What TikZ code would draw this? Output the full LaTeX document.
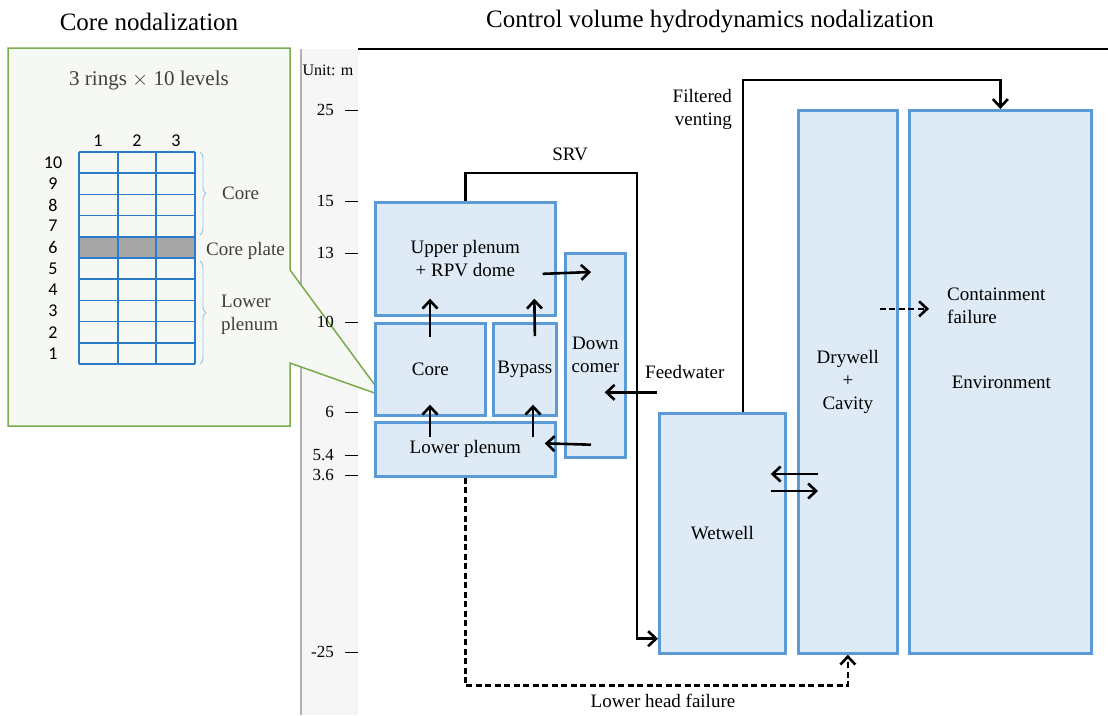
\documentclass[tikz,border=0pt]{standalone}
\usepackage{fontspec}
\setmainfont{Liberation Serif}
\newfontfamily\calib{Carlito}
\usetikzlibrary{arrows.meta,calc,decorations.pathreplacing}
\definecolor{bxfill}{HTML}{DEEBF7}
\definecolor{bxline}{HTML}{5B9BD5}
\definecolor{gridc}{HTML}{2B7BCB}
\definecolor{cgreen}{HTML}{77AB4C}
\definecolor{cfill}{HTML}{F6F8F3}
\definecolor{bracec}{HTML}{9DC3E6}
\definecolor{stripc}{HTML}{F6F6F6}
\definecolor{txtgray}{HTML}{404040}
\begin{document}
\begin{tikzpicture}[x=1pt,y=-1pt,
  box/.style={draw=bxline,fill=bxfill,line width=2.7pt,inner sep=0pt,anchor=north west,align=center,font=\fontsize{19}{23}\selectfont},
  flow/.style={draw=black,line width=2.6pt,-{Straight Barb[length=8pt,width=15pt,line width=2.6pt]}},
  dflow/.style={flow,dash pattern=on 6pt off 3.5pt},
  lbl/.style={inner sep=0pt,font=\fontsize{19}{23}\selectfont,align=center},
  tick/.style={inner sep=0pt,anchor=east,font=\fontsize{17}{20}\selectfont},
  brc/.style={draw=bracec,line width=0.9pt,decorate,decoration={brace,amplitude=6pt}}]
\useasboundingbox (0,0) rectangle (1108,715);
% headings
\node[inner sep=0pt,font=\fontsize{25}{30}\selectfont] (h1) at (149,22) {Core nodalization};
\node[inner sep=0pt,font=\fontsize{25}{30}\selectfont] (h2) at (710,22) {Control volume hydrodynamics nodalization};
% axis strip
\fill[stripc] (300,49) rectangle (358,715);
\draw[gray!60,line width=1.5pt] (301,49) -- (301,715);
\draw[black,line width=1.6pt] (358,49) -- (1108,49);
% callout
\draw[cgreen,fill=cfill,line width=1.5pt] (8,48) -- (290,48) -- (290,270) -- (383,396) -- (290,363) -- (290,426) -- (8,426) -- cycle;
\node[inner sep=0pt,font=\fontsize{16}{19}\selectfont] (unit) at (328,70) {Unit: m};
\foreach \v/\y/\n in {25/110/a,15/201/b,13/253/c,10/322/d,6/412/e,5.4/455/f,3.6/475/g,-25/652/h}{
  \node[tick] (t\n) at (334,\y) {\v};
  \draw[line width=0.8pt] (345,\y) -- (358,\y);
}
\node[inner sep=0pt,text=txtgray,font=\fontsize{21}{25}\selectfont] (rings) at (149,80) {3 rings $\times$ 10 levels};
% grid
\fill[black!35] (79,236.8) rectangle (195,258);
\foreach \k in {0,...,10}{ \draw[gridc,line width=1.5pt] (79,152+21.2*\k) -- (195,152+21.2*\k); }
\foreach \xx in {79,118,156,195}{ \draw[gridc,line width=1.5pt] (\xx,152) -- (\xx,364); }
\foreach \c/\xx in {1/98,2/137,3/176}{ \node[inner sep=0pt,font=\calib\fontsize{18}{21}\selectfont] (col\c) at (\xx,141) {\c}; }
\foreach \k in {0,...,9}{
  \pgfmathtruncatemacro{\lv}{10-\k}
  \node[inner sep=0pt,font=\calib\fontsize{18}{21}\selectfont] (lev\lv) at (53,162.6+21.2*\k) {\lv};
}
\draw[brc] (200,152) -- (200,235);
\draw[brc] (200,261) -- (200,364);
\node[inner sep=0pt,anchor=west,text=txtgray,font=\fontsize{19}{23}\selectfont] (lcore) at (222,193) {Core};
\node[inner sep=0pt,anchor=west,text=txtgray,font=\fontsize{19}{23}\selectfont] (lplate) at (206,251) {Core plate};
\node[inner sep=0pt,anchor=west,text=txtgray,align=left,font=\fontsize{19}{23}\selectfont] (llp) at (221,315) {Lower\\plenum};
% boxes
\node[box,minimum width=180pt,minimum height=113pt] (up) at (374,201) {};
\node[lbl] at (up.center) {Upper plenum\\+ RPV dome};
\node[box,minimum width=110pt,minimum height=92pt] (core) at (374,322) {Core};
\node[box,minimum width=63pt,minimum height=92pt] (byp) at (492,322) {Bypass};
\node[box,minimum width=180pt,minimum height=54pt] (lp) at (374,421) {Lower plenum};
\node[box,minimum width=60pt,minimum height=204pt] (dc) at (564,252) {Down\\comer};
\node[box,minimum width=126pt,minimum height=240pt] (ww) at (658,412) {Wetwell};
\node[box,minimum width=99pt,minimum height=543pt] (dw) at (797,109) {Drywell\\+\\Cavity};
\node[box,minimum width=182pt,minimum height=543pt] (env) at (908,109) {\hspace*{2pt}Environment};
\node[inner sep=0pt,anchor=west,align=left,font=\fontsize{19}{23}\selectfont] (cf) at (947,306) {Containment\\failure};
% internal arrows
\draw[flow] ($(up.south west)+(56,20)$) -- ($(up.south west)+(56,-18)$);
\draw[flow] ($(byp.north)+(10,14)$) -- ($(up.south)+(69,-18)$);
\draw[flow] ($(lp.north west)+(56,16)$) -- ($(core.south west)+(56,-12)$);
\draw[flow] ($(lp.north west)+(159,16)$) -- ($(byp.south west)+(41,-12)$);
\draw[flow] ($(up.east)+(-14,15)$) -- ($(dc.north west)+(27,20)$);
\draw[flow] ($(dc.south west)+(27,-14)$) -- ($(lp.east)+(-12,-6)$);
% feedwater
\coordinate (fw) at ($(dc.east)+(30,37)$);
\draw[flow] (fw) -- ($(dc.east)+(-22,37)$);
\node[lbl,anchor=west] (fwl) at (645,372) {Feedwater};
% SRV
\coordinate (srv) at (637,173);
\draw[flow] (up.north) |- (srv) |- ($(ww.south west)+(0,-16)$);
\node[lbl] (srvl) at (570,154) {SRV};
% filtered venting
\draw[flow] ($(ww.north west)+(85,0)$) |- ($(env.north)+(0,-29)$) -- (env.north);
\node[lbl,anchor=east,align=right] (fvl) at (732,109) {Filtered\\venting};
% wetwell <-> drywell
\draw[flow] ($(dw.north west)+(21,365)$) -- ($(ww.north east)+(-16,62)$);
\draw[flow] ($(ww.north east)+(-16,79)$) -- ($(dw.north west)+(21,382)$);
% containment failure
\draw[dflow] ($(dw.east)+(-19,-73)$) -- ($(env.west)+(21,-73)$);
% lower head failure
\draw[dflow] (lp.south) -- ++(0,208) -| (dw.south);
\node[lbl] (lhf) at (663,701) {Lower head failure};
\end{tikzpicture}
\end{document}
